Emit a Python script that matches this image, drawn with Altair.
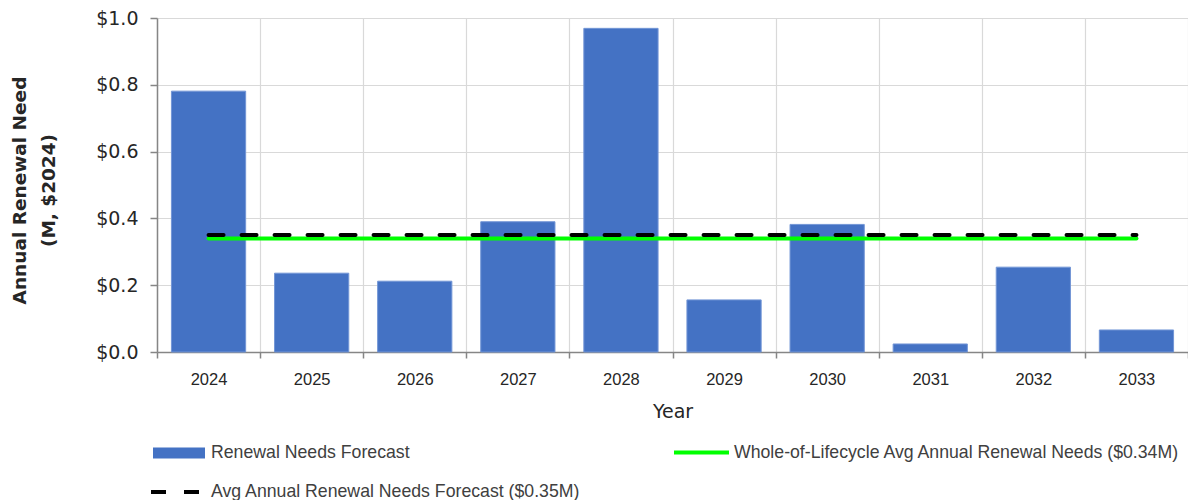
import altair as alt
import pandas as pd

# Annual renewal need forecast, $M (2024 dollars)
YEARS = ["2024", "2025", "2026", "2027", "2028", "2029", "2030", "2031", "2032", "2033"]
RENEWAL_NEED = [0.781, 0.236, 0.212, 0.390, 0.969, 0.156, 0.382, 0.024, 0.254, 0.066]

# Reference averages, $M
AVG_FORECAST = 0.35
AVG_LIFECYCLE = 0.34

Y_TICKS = [0.0, 0.2, 0.4, 0.6, 0.8, 1.0]

BAR_NAME = "Renewal Needs Forecast"
LIFE_NAME = f"Whole-of-Lifecycle Avg Annual Renewal Needs (${AVG_LIFECYCLE:.2f}M)"
FORECAST_NAME = f"Avg Annual Renewal Needs Forecast (${AVG_FORECAST:.2f}M)"

bars_df = pd.DataFrame({"year": YEARS, "need": RENEWAL_NEED, "bar_series": BAR_NAME})
span = [YEARS[0], YEARS[-1]]
life_df = pd.DataFrame({"year": span, "need": [AVG_LIFECYCLE] * 2, "life_series": LIFE_NAME})
fc_df = pd.DataFrame({"year": span, "need": [AVG_FORECAST] * 2, "fc_series": FORECAST_NAME})

LEGEND_FONT = "Liberation Sans"
LEGEND_COLOR = "#404040"

x_enc = alt.X(
    "year:N",
    sort=YEARS,
    scale=alt.Scale(paddingInner=0, paddingOuter=0),
    axis=alt.Axis(
        title="Year",
        labelAngle=0,
        tickBand="extent",
        grid=True,
        tickSize=6,
        labelPadding=13,
        labelFont="Liberation Sans",
        labelFontSize=16.5,
        labelColor="#262626",
        titleFont="DejaVu Sans",
        titleFontSize=19,
        titleFontWeight="normal",
        titleColor="#262626",
        titlePadding=15,
    ),
)

y_enc = alt.Y(
    "need:Q",
    scale=alt.Scale(domain=[0, 1], nice=False),
    axis=alt.Axis(
        title=["Annual Renewal Need", "(M, $2024)"],
        values=Y_TICKS,
        format="$.1f",
        tickSize=7,
        labelPadding=12,
        labelFont="DejaVu Sans",
        labelFontSize=19,
        labelColor="#262626",
        titleFont="DejaVu Sans",
        titleFontSize=18.5,
        titleFontWeight="bold",
        titleColor="#262626",
        titleLineHeight=29,
        titleBaseline="middle",
        titleX=-138,
        titleY=172,
    ),
)

bars = alt.Chart(bars_df).mark_bar(
    width=alt.RelativeBandSize(0.72), stroke="#7396d6", strokeWidth=1
).encode(
    x=x_enc,
    y=y_enc,
    color=alt.Color(
        "bar_series:N",
        scale=alt.Scale(domain=[BAR_NAME], range=["#4472C4"]),
        legend=alt.Legend(
            title=None,
            orient="none",
            legendX=-4,
            legendY=409,
            symbolType="M-1,-0.21H1V0.21H-1Z",
            symbolSize=2704,
            symbolStrokeWidth=0,
            labelOffset=6,
        ),
    ),
)

life_line = alt.Chart(life_df).mark_line(strokeWidth=4, strokeCap="round").encode(
    x=alt.X("year:N", sort=YEARS),
    y="need:Q",
    stroke=alt.Stroke(
        "life_series:N",
        scale=alt.Scale(domain=[LIFE_NAME], range=["#00ff00"]),
        legend=alt.Legend(
            title=None,
            orient="none",
            legendX=515,
            legendY=405,
            symbolType="stroke",
            symbolSize=3025,
            symbolStrokeWidth=4,
            labelOffset=3,
        ),
    ),
)

fc_line = alt.Chart(fc_df).mark_line(strokeWidth=4, strokeCap="round", color="black").encode(
    x=alt.X("year:N", sort=YEARS),
    y="need:Q",
    strokeDash=alt.StrokeDash(
        "fc_series:N",
        scale=alt.Scale(domain=[FORECAST_NAME], range=[[15, 18]]),
        legend=alt.Legend(
            title=None,
            orient="none",
            legendX=-8,
            legendY=446,
            symbolType="stroke",
            symbolSize=2704,
            symbolStrokeWidth=4,
            symbolStrokeColor="black",
            labelOffset=6,
        ),
    ),
)

chart = (
    alt.layer(bars, life_line, fc_line)
    .properties(
        width=1031,
        height=334,
        autosize=alt.AutoSizeParams(type="none"),
        padding={"left": 157, "top": 18, "right": 0, "bottom": 148},
    )
    .configure_view(stroke=None)
    .configure_axis(
        domainColor="#868686",
        domainWidth=1.5,
        tickColor="#868686",
        tickWidth=1.5,
        gridColor="#d9d9d9",
        gridWidth=1.2,
    )
    .configure_legend(
        labelFont=LEGEND_FONT,
        labelFontSize=17.7,
        labelColor=LEGEND_COLOR,
        padding=0,
        labelLimit=600,
    )
)

chart.save("out.html", embed_options={"renderer": "svg", "actions": False})
